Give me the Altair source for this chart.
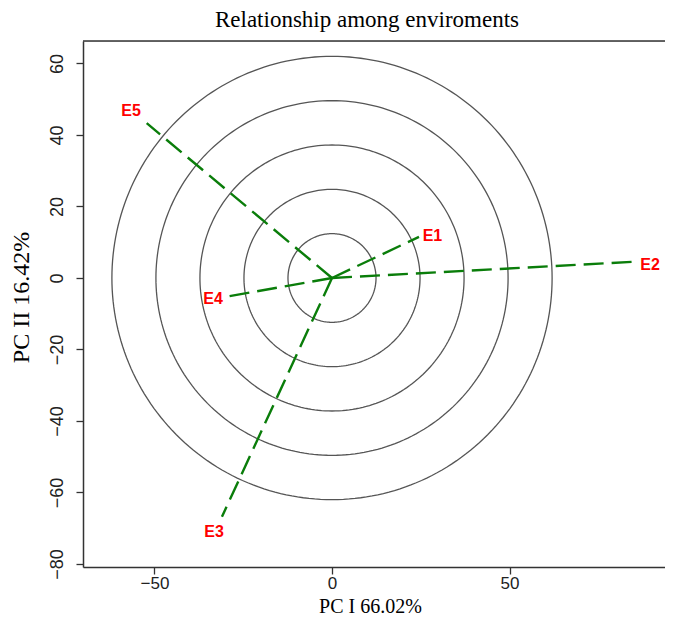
import altair as alt
import numpy as np
import pandas as pd

# Environment vectors (PC I, PC II)
envs = ["E1", "E2", "E3", "E4", "E5"]
line_x = [24.5, 84.5, -31.0, -30.1, -52.2]
line_y = [11.5, 4.5, -66.8, -5.3, 43.3]
label_x = [28.3, 89.6, -33.2, -33.5, -56.6]
label_y = [11.8, 3.6, -71.0, -5.9, 46.8]

# Concentric circle radii
radii = [12.4, 24.8, 37.2, 49.6, 62.0]

x_ticks = [-50, 0, 50]
y_ticks = [-80, -60, -40, -20, 0, 20, 40, 60]

x_dom = [-70.14, 93.80]
y_dom = [-80.84, 66.29]

W, H = 582, 526

# circles as closed paths
ang = np.linspace(0, 2 * np.pi, 241)
rows = []
for r in radii:
    for i, a in enumerate(ang):
        rows.append({"r": r, "i": i, "x": r * np.cos(a), "y": r * np.sin(a)})
circ = pd.DataFrame(rows)

seg = pd.DataFrame({"env": envs, "x0": [0.0] * 5, "y0": [0.0] * 5, "x1": line_x, "y1": line_y})
lab = pd.DataFrame({"env": envs, "x": label_x, "y": label_y})

xs = alt.Scale(domain=x_dom, nice=False, zero=False)
ys = alt.Scale(domain=y_dom, nice=False, zero=False)

xaxis = alt.Axis(values=x_ticks, title="PC I 66.02%", grid=False, tickSize=7,
                 labelFont="Liberation Sans", labelFontSize=17, labelColor="#222",
                 labelPadding=1, titleFont="Liberation Serif", titleFontSize=20,
                 titleFontWeight="normal", titleColor="#000",
                 titleBaseline="alphabetic", titleAlign="center", titleX=287, titleY=45,
                 domain=True, domainColor="#333", domainWidth=1.5,
                 tickColor="#333", tickWidth=1.3)
yaxis = alt.Axis(values=y_ticks, title="PC II 16.42%", grid=False, tickSize=7,
                 labelFont="Liberation Sans", labelFontSize=18, labelColor="#222",
                 labelAngle=-90, labelAlign="center", labelBaseline="bottom", labelPadding=10,
                 titleFont="Liberation Serif", titleFontSize=24, titleFontWeight="normal",
                 titleColor="#000", titleAngle=-90, titleBaseline="middle", titleAlign="center",
                 titleX=-62, titleY=256,
                 domain=True, domainColor="#333", domainWidth=1.5,
                 tickColor="#333", tickWidth=1.3)

circles = alt.Chart(circ).mark_line(color="#555555", strokeWidth=1.3, clip=True).encode(
    x=alt.X("x:Q", scale=xs, axis=xaxis),
    y=alt.Y("y:Q", scale=ys, axis=yaxis),
    detail="r:N",
    order="i:Q",
)

top_border = alt.Chart(pd.DataFrame({"k": [0]})).mark_rule(color="#333", strokeWidth=1.5).encode(
    x=alt.value(0), x2=alt.value(W + 20), y=alt.value(0)
)

rules = alt.Chart(seg).mark_rule(color="#0a7d0a", strokeWidth=2.4, strokeDash=[20, 8]).encode(
    x=alt.X("x0:Q", scale=xs),
    y=alt.Y("y0:Q", scale=ys),
    x2="x1:Q",
    y2="y1:Q",
)

texts = alt.Chart(lab).mark_text(color="#ff0000", font="Liberation Sans", fontWeight="bold",
                                 fontSize=16, align="center", baseline="middle").encode(
    x=alt.X("x:Q", scale=xs),
    y=alt.Y("y:Q", scale=ys),
    text="env:N",
)

chart = alt.layer(circles, top_border, rules, texts).properties(
    width=W,
    height=H,
    title=alt.TitleParams("Relationship among enviroments", font="Liberation Serif",
                          fontSize=23, fontWeight="normal", color="#000", offset=8,
                          anchor="middle", dx=-7),
    autosize=alt.AutoSizeParams(type="none"),
    padding={"left": 75, "top": 33, "right": 0, "bottom": 50},
).configure_view(stroke=None).configure(background="white")

chart.save("out.html", embed_options={"renderer": "svg", "actions": False})
